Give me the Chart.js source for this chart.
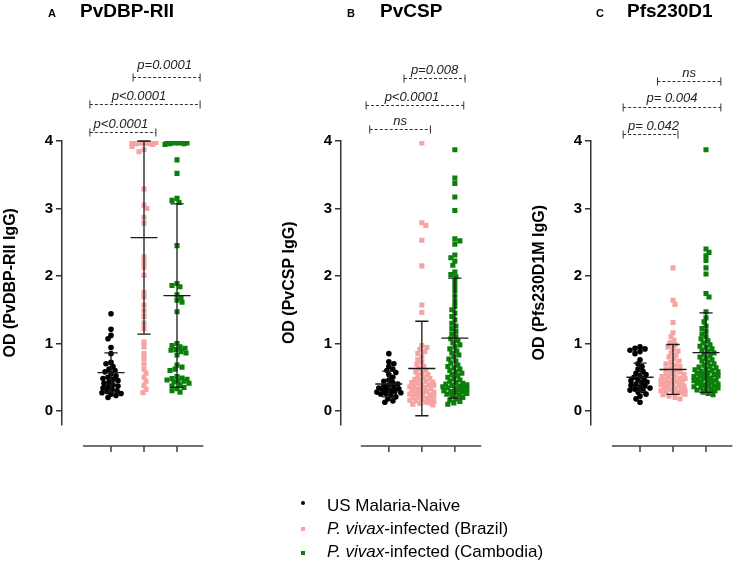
<!DOCTYPE html>
<html>
<head>
<meta charset="utf-8">
<script src="https://cdn.jsdelivr.net/npm/chart.js@4/dist/chart.umd.min.js"></script>
<style>
body { margin:0; width:735px; height:569px; position:relative; background:#fff; overflow:hidden;
       font-family:"Liberation Sans", Arial, sans-serif; color:#000 }
.panel { position:absolute; top:0; width:206px; height:569px }
.letter { position:absolute; top:7px; font-weight:bold; font-size:11px }
.title { position:absolute; top:0; font-weight:bold; font-size:19px }
.leg { position:absolute; left:327px; font-size:17px; line-height:21px; white-space:nowrap }
.mk { position:absolute; width:4px; height:4px }
</style>
</head>
<body>
<div class="panel" style="left:0"><canvas id="chartA" width="206" height="569"></canvas></div>
<div class="panel" style="left:279px"><canvas id="chartB" width="206" height="569"></canvas></div>
<div class="panel" style="left:529px"><canvas id="chartC" width="206" height="569"></canvas></div>

<div class="letter" style="left:48px">A</div><div class="title" style="left:80px">PvDBP-RII</div>
<div class="letter" style="left:347px">B</div><div class="title" style="left:380px">PvCSP</div>
<div class="letter" style="left:596px">C</div><div class="title" style="left:627px">Pfs230D1</div>

<div class="mk" style="left:301px;top:501px;border-radius:50%;background:#000"></div>
<div class="mk" style="left:301px;top:527px;background:#f5a3a3"></div>
<div class="mk" style="left:301px;top:551px;background:#0a7f0a"></div>
<div class="leg" style="top:495px">US Malaria-Naive</div>
<div class="leg" style="top:518px"><i>P. vivax</i>-infected (Brazil)</div>
<div class="leg" style="top:541px"><i>P. vivax</i>-infected (Cambodia)</div>

<script>
// groups and colours
const groups = ['US Malaria-Naive', 'P. vivax-infected (Brazil)', 'P. vivax-infected (Cambodia)'];
const colors = ['#000000', '#f5a3a3', '#0a7f0a'];
const yTicks = [0, 1, 2, 3, 4];

// PvDBP-RII
const dbpNaive = [1.44, 1.21, 1.12, 1.07, 0.94, 0.85, 0.72, 0.70, 0.66, 0.62, 0.60, 0.58, 0.55, 0.52, 0.50, 0.48,
  0.47, 0.45, 0.43, 0.41, 0.39, 0.37, 0.36, 0.34, 0.32, 0.30, 0.29, 0.27, 0.26, 0.25, 0.23, 0.20];
const dbpBrazil = [3.98, 3.98, 3.98, 3.98, 3.98, 3.98, 3.98, 3.98, 3.98, 3.98, 3.98, 3.97, 3.97, 3.97, 3.97, 3.97,
  3.96, 3.96, 3.95, 3.92, 3.87, 3.84, 3.29, 3.05, 3.00, 2.87, 2.78, 2.28, 2.20, 2.13, 2.01, 1.76, 1.69, 1.57, 1.48,
  1.40, 1.30, 1.22, 1.02, 0.95, 0.85, 0.78, 0.70, 0.62, 0.56, 0.50, 0.44, 0.38, 0.32, 0.27];
const dbpCambodia = [3.98, 3.98, 3.98, 3.97, 3.97, 3.97, 3.97, 3.96, 3.96, 3.95, 3.72, 3.52, 3.15, 3.12, 3.09, 2.45,
  1.89, 1.86, 1.84, 1.72, 1.68, 1.64, 1.61, 1.47, 1.00, 0.97, 0.95, 0.93, 0.91, 0.90, 0.88, 0.86, 0.83,
  0.68, 0.65, 0.62, 0.60, 0.51, 0.49, 0.48, 0.47, 0.46, 0.45, 0.44, 0.43, 0.41, 0.39, 0.37, 0.35, 0.33, 0.30, 0.28];
const dbpMean = [0.57, 2.57, 1.71];
const dbpSd = [0.29, 1.43, 1.36];

// PvCSP
const cspNaive = [0.85, 0.73, 0.70, 0.66, 0.62, 0.60, 0.57, 0.54, 0.50, 0.46, 0.44, 0.42, 0.40, 0.38, 0.37, 0.35,
  0.34, 0.33, 0.32, 0.31, 0.30, 0.29, 0.28, 0.27, 0.26, 0.25, 0.23, 0.21, 0.18, 0.15, 0.13];
const cspBrazil = [3.97, 2.79, 2.75, 2.53, 2.15, 1.57, 1.46, 0.97, 0.94, 0.91, 0.88, 0.85, 0.80, 0.76, 0.72, 0.69,
  0.66, 0.63, 0.60, 0.58, 0.56, 0.54, 0.52, 0.50, 0.48, 0.47, 0.46, 0.44, 0.43, 0.42, 0.41, 0.40, 0.39, 0.38, 0.37,
  0.36, 0.35, 0.34, 0.33, 0.32, 0.31, 0.30, 0.29, 0.28, 0.27, 0.26, 0.25, 0.24, 0.23, 0.22, 0.21, 0.20, 0.19, 0.18,
  0.17, 0.16, 0.15, 0.14, 0.13, 0.12, 0.11, 0.10, 0.09];
const cspCambodia = [3.87, 3.45, 3.37, 3.17, 2.97, 2.55, 2.52, 2.47, 2.31, 2.27, 2.22, 2.16, 2.06, 2.02, 1.99, 1.92,
  1.85, 1.78, 1.70, 1.62, 1.55, 1.50, 1.45, 1.40, 1.35, 1.30, 1.26, 1.22, 1.18, 1.14, 1.10, 1.07, 1.04, 1.01, 0.98,
  0.95, 0.92, 0.89, 0.86, 0.83, 0.80, 0.77, 0.74, 0.71, 0.68, 0.66, 0.64, 0.62, 0.60, 0.58, 0.56, 0.54, 0.52, 0.50,
  0.48, 0.46, 0.44, 0.42, 0.41, 0.40, 0.39, 0.38, 0.37, 0.36, 0.35, 0.34, 0.33, 0.32, 0.31, 0.30, 0.29, 0.28, 0.27,
  0.26, 0.25, 0.24, 0.22, 0.20, 0.18, 0.16, 0.14, 0.12, 0.10];
const cspMean = [0.40, 0.63, 1.08];
const cspSd = [0.19, 0.70, 0.89];

// Pfs230D1
const pfsNaive = [0.95, 0.93, 0.92, 0.90, 0.88, 0.85, 0.76, 0.70, 0.66, 0.62, 0.59, 0.56, 0.54, 0.52, 0.50, 0.48,
  0.46, 0.45, 0.43, 0.42, 0.40, 0.38, 0.37, 0.35, 0.34, 0.33, 0.31, 0.30, 0.28, 0.25, 0.22, 0.18, 0.13];
const pfsBrazil = [2.12, 1.64, 1.58, 1.31, 1.16, 1.10, 1.05, 1.01, 0.98, 0.95, 0.92, 0.89, 0.86, 0.83, 0.80, 0.77,
  0.74, 0.72, 0.70, 0.68, 0.66, 0.64, 0.62, 0.60, 0.58, 0.56, 0.55, 0.54, 0.52, 0.51, 0.50, 0.49, 0.48, 0.47, 0.46,
  0.45, 0.44, 0.43, 0.42, 0.41, 0.40, 0.39, 0.38, 0.37, 0.36, 0.35, 0.34, 0.33, 0.32, 0.31, 0.30, 0.29, 0.28, 0.27,
  0.26, 0.25, 0.24, 0.22, 0.20, 0.18];
const pfsCambodia = [3.87, 2.40, 2.35, 2.30, 2.23, 2.12, 2.03, 1.74, 1.69, 1.47, 1.38, 1.32, 1.26, 1.22, 1.18, 1.14,
  1.10, 1.07, 1.04, 1.01, 0.98, 0.96, 0.94, 0.92, 0.90, 0.88, 0.86, 0.84, 0.82, 0.80, 0.78, 0.76, 0.74, 0.72, 0.70,
  0.68, 0.66, 0.65, 0.64, 0.62, 0.61, 0.60, 0.59, 0.58, 0.57, 0.56, 0.55, 0.54, 0.53, 0.52, 0.51, 0.50, 0.49, 0.48,
  0.47, 0.46, 0.45, 0.44, 0.43, 0.42, 0.41, 0.40, 0.39, 0.38, 0.37, 0.36, 0.35, 0.34, 0.33, 0.32, 0.31, 0.30, 0.28,
  0.26, 0.24];
const pfsMean = [0.50, 0.615, 0.865];
const pfsSd = [0.21, 0.37, 0.59];

// significance brackets (x in category units, level in OD units)
const dbpBrackets = [
  { from: 1.67, to: 3.7, level: 4.95, label: 'p=0.0001', gap: 9, dx: -2 },
  { from: 0.36, to: 3.7, level: 4.55, label: 'p<0.0001', gap: 5, dx: -6 },
  { from: 0.36, to: 2.36, level: 4.14, label: 'p<0.0001', gap: 5, dx: -2 }
];
const cspBrackets = [
  { from: 1.46, to: 3.31, level: 4.93, label: 'p=0.008', gap: 5, dx: 0 },
  { from: 0.31, to: 3.27, level: 4.53, label: 'p<0.0001', gap: 5, dx: -3 },
  { from: 0.42, to: 2.26, level: 4.18, label: 'ns', gap: 5, dx: 0 }
];
const pfsBrackets = [
  { from: 1.53, to: 3.45, level: 4.89, label: 'ns', gap: 5, dx: 0 },
  { from: 0.49, to: 3.45, level: 4.5, label: 'p= 0.004', gap: 6, dx: 0 },
  { from: 0.49, to: 2.15, level: 4.10, label: 'p= 0.042', gap: 5, dx: 3 }
];

// rough px per unit, only used to spread points sideways
const PX_X = 33, PX_Y = 67.5;

function swarm(values, cat, minDist, maxOff) {
  const placed = [];
  const offs = [];
  const order = values.map((v, i) => i).sort((a, b) => values[b] - values[a]);
  order.forEach((i, n) => {
    const py = values[i] * PX_Y;
    const sign = n % 2 ? -1 : 1;
    let best = 0, bestD = -1;
    for (let k = 0; k <= 2 * maxOff; k++) {
      const c = k === 0 ? 0 : (k % 2 ? sign * (k + 1) / 2 : -sign * k / 2);
      let d = Infinity;
      placed.forEach(p => { d = Math.min(d, Math.hypot(p[0] - c, p[1] - py)); });
      if (d >= minDist) { best = c; break; }
      if (d > bestD) { bestD = d; best = c; }
    }
    placed.push([best, py]);
    offs[i] = best;
  });
  return values.map((v, i) => ({ x: cat + offs[i] / PX_X, y: v }));
}

const extras = {
  id: 'extras',
  afterDatasetsDraw(chart, args, opts) {
    const { ctx } = chart;
    const x = chart.scales.x, y = chart.scales.y;
    ctx.save();
    // mean and SD
    ctx.strokeStyle = '#1a1a1a';
    ctx.lineWidth = 1.3;
    opts.mean.forEach((m, i) => {
      const cx = x.getPixelForValue(i + 1);
      const top = y.getPixelForValue(m + opts.sd[i]);
      const bot = y.getPixelForValue(m - opts.sd[i]);
      const ym = y.getPixelForValue(m);
      const hw = x.getPixelForValue(i + 1.41) - cx;
      const cw = x.getPixelForValue(i + 1.2) - cx;
      ctx.beginPath();
      ctx.moveTo(cx, top); ctx.lineTo(cx, bot);
      ctx.moveTo(cx - hw, ym); ctx.lineTo(cx + hw, ym);
      ctx.moveTo(cx - cw, top); ctx.lineTo(cx + cw, top);
      ctx.moveTo(cx - cw, bot); ctx.lineTo(cx + cw, bot);
      ctx.stroke();
    });
    // separate x axis
    ctx.strokeStyle = '#444';
    ctx.lineWidth = 1.5;
    const ay = y.getPixelForValue(-0.52);
    ctx.beginPath();
    ctx.moveTo(x.getPixelForValue(0.15), ay);
    ctx.lineTo(x.getPixelForValue(3.8), ay);
    [1, 2, 3].forEach(c => {
      const px = x.getPixelForValue(c);
      ctx.moveTo(px, ay); ctx.lineTo(px, ay + 6);
    });
    ctx.stroke();
    // brackets
    ctx.strokeStyle = '#333';
    ctx.fillStyle = '#222';
    ctx.lineWidth = 1;
    ctx.font = 'italic 13px "Liberation Sans", Arial, sans-serif';
    ctx.textAlign = 'center';
    ctx.textBaseline = 'alphabetic';
    opts.brackets.forEach(b => {
      const x1 = x.getPixelForValue(b.from), x2 = x.getPixelForValue(b.to);
      const yy = Math.round(y.getPixelForValue(b.level)) + 0.5;
      ctx.setLineDash([3, 2]);
      ctx.beginPath(); ctx.moveTo(x1, yy); ctx.lineTo(x2, yy); ctx.stroke();
      ctx.setLineDash([]);
      ctx.beginPath();
      ctx.moveTo(x1, yy - 4); ctx.lineTo(x1, yy + 4);
      ctx.moveTo(x2, yy - 4); ctx.lineTo(x2, yy + 4);
      ctx.stroke();
      ctx.fillText(b.label, (x1 + x2) / 2 + b.dx, yy - b.gap);
    });
    ctx.restore();
  }
};

function makeChart(id, sets, mean, sd, brackets, title, xMin) {
  const pxRight = 206 - 4 - 62;
  new Chart(document.getElementById(id), {
    type: 'scatter',
    data: {
      datasets: sets.map((vals, i) => ({
        label: groups[i],
        data: swarm(vals, i + 1, 4.5, 12),
        pointStyle: i === 0 ? 'circle' : 'rect',
        pointRadius: i === 0 ? 2.8 : 3.6,
        pointBackgroundColor: colors[i],
        pointBorderWidth: 0,
        pointHoverRadius: 0
      }))
    },
    options: {
      responsive: false,
      animation: false,
      devicePixelRatio: 1,
      layout: { padding: { top: 141, bottom: 144.5, left: 0, right: 4 } },
      plugins: {
        legend: { display: false },
        tooltip: { enabled: false },
        extras: { mean: mean, sd: sd, brackets: brackets }
      },
      scales: {
        x: { type: 'linear', display: false, min: xMin, max: xMin + pxRight / PX_X },
        y: {
          min: -0.2, max: 4,
          afterBuildTicks: s => { s.ticks = yTicks.map(v => ({ value: v })); },
          afterFit: s => { s.width = 62; },
          grid: { drawOnChartArea: false, drawTicks: true, tickLength: 6, color: '#333', lineWidth: 1.5 },
          border: { display: true, color: '#333', width: 1.5 },
          ticks: { color: '#000', padding: 3, font: { family: '"Liberation Sans", Arial', size: 15, weight: 'bold' } },
          title: {
            display: true, text: title, color: '#000', padding: { top: 1, bottom: 0 },
            font: { family: '"Liberation Sans", Arial', size: 16, weight: 'bold' }
          }
        }
      }
    },
    plugins: [extras]
  });
}

makeChart('chartA', [dbpNaive, dbpBrazil, dbpCambodia], dbpMean, dbpSd, dbpBrackets, 'OD (PvDBP-RII IgG)', -0.485);
makeChart('chartB', [cspNaive, cspBrazil, cspCambodia], cspMean, cspSd, cspBrackets, 'OD (PvCSP IgG)', -0.45);
makeChart('chartC', [pfsNaive, pfsBrazil, pfsCambodia], pfsMean, pfsSd, pfsBrackets, 'OD (Pfs230D1M IgG)', -0.485);
</script>
</body>
</html>
